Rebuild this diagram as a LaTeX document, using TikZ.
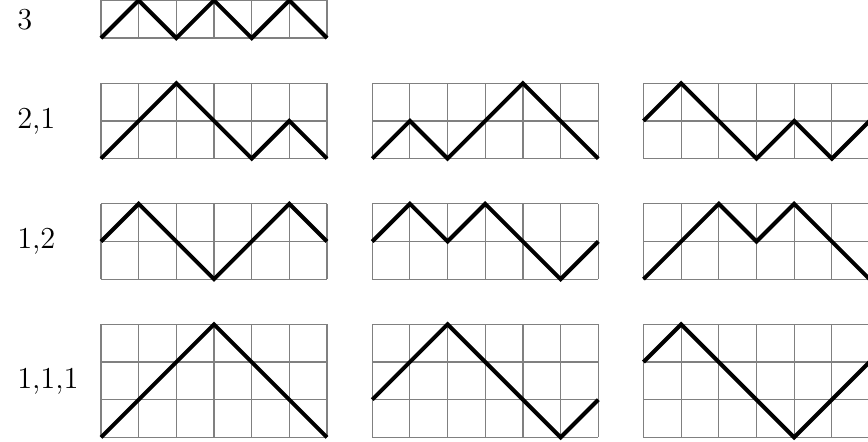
\documentclass[tikz,border=0pt]{standalone}
\usepackage{tikz}

\newcommand{\panel}[4]{% x, y, rows, walk
  \begin{scope}[shift={(#1,#2)}]
    \draw[cell] (0,0) grid (6,#3);
    \draw[walk] #4;
  \end{scope}}

\begin{document}
\begin{tikzpicture}[x=5mm,y=5mm,cell/.style={gray,line width=.45pt,step=5mm},walk/.style={line width=1.5pt},lbl/.style={anchor=west,font=\fontsize{11.5}{13}\selectfont}]
\useasboundingbox (-2.68,-0.12) rectangle (20.36,11.61);
% composition labels
\node[lbl] (c3) at (-2.47,11.1) {3};
\node[lbl] (c21) at (-2.47,8.4) {2,1};
\node[lbl] (c12) at (-2.47,5.2) {1,2};
\node[lbl] (c111) at (-2.47,1.5) {1,1,1};
% row 3
\panel{0}{10.6}{1}{(0,0)--(1,1)--(2,0)--(3,1)--(4,0)--(5,1)--(6,0)}
% row 2,1
\panel{0}{7.4}{2}{(0,0)--(2,2)--(4,0)--(5,1)--(6,0)}
\panel{7.2}{7.4}{2}{(0,0)--(1,1)--(2,0)--(4,2)--(6,0)}
\panel{14.4}{7.4}{2}{(0,1)--(1,2)--(3,0)--(4,1)--(5,0)--(6,1)}
% row 1,2
\panel{0}{4.2}{2}{(0,1)--(1,2)--(3,0)--(5,2)--(6,1)}
\panel{7.2}{4.2}{2}{(0,1)--(1,2)--(2,1)--(3,2)--(5,0)--(6,1)}
\panel{14.4}{4.2}{2}{(0,0)--(2,2)--(3,1)--(4,2)--(6,0)}
% row 1,1,1
\panel{0}{0}{3}{(0,0)--(3,3)--(6,0)}
\panel{7.2}{0}{3}{(0,1)--(2,3)--(5,0)--(6,1)}
\panel{14.4}{0}{3}{(0,2)--(1,3)--(4,0)--(6,2)}
\end{tikzpicture}
\end{document}
